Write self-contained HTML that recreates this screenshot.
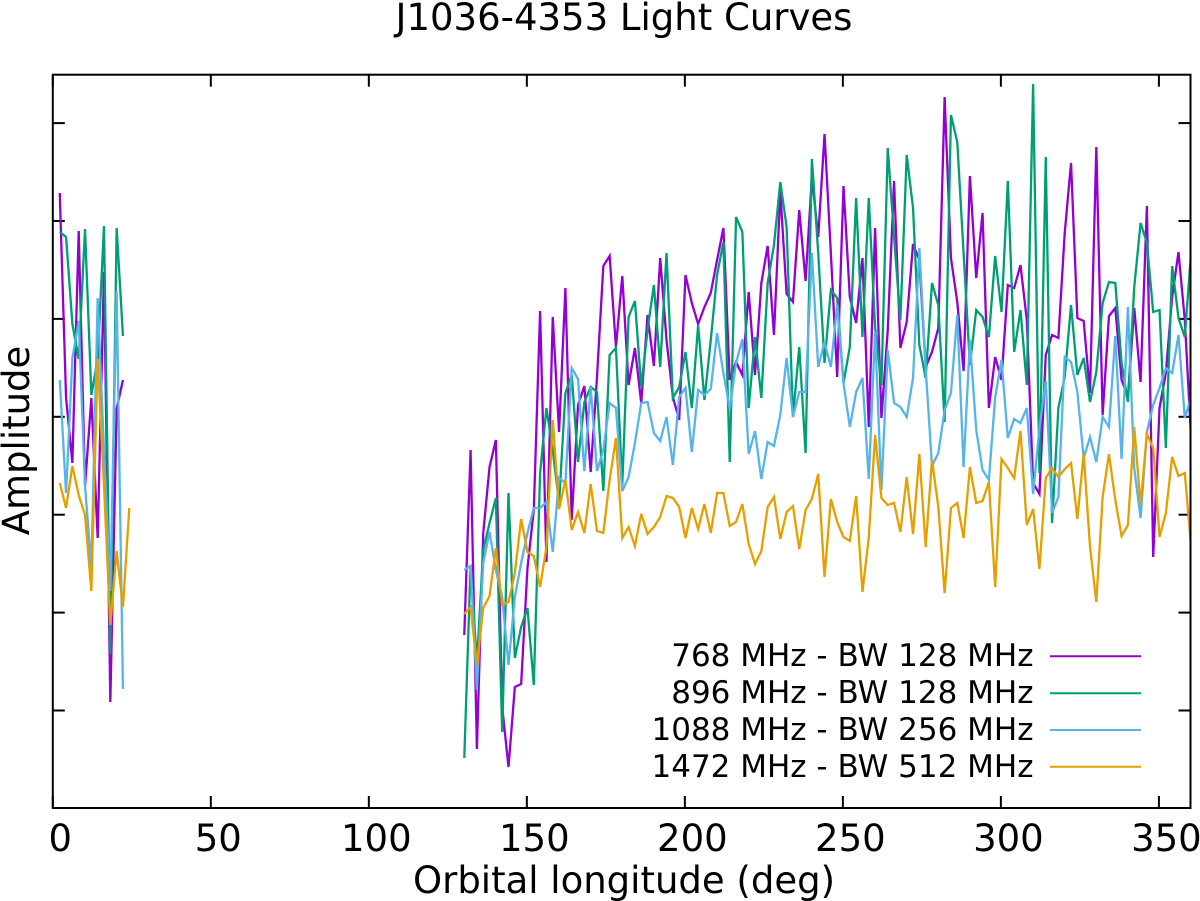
<!DOCTYPE html>
<html lang="en">
<head>
<meta charset="utf-8">
<title>J1036-4353 Light Curves</title>
<style>
html,body{margin:0;padding:0;background:#fff;}
svg{display:block;}
text{font-family:"DejaVu Sans","Liberation Sans",sans-serif;fill:#000;font-size:37px;}
text.legend-text{font-size:31px;}
</style>
</head>
<body>
<svg id="chart" xmlns="http://www.w3.org/2000/svg" width="1200" height="901" viewBox="0 0 1200 901">
<rect x="0" y="0" width="1200" height="901" fill="#fff"/>
<defs><clipPath id="plot-clip"><rect x="52.8" y="74.7" width="1137.7" height="733.3"/></clipPath></defs>
<text x="624" y="30" text-anchor="middle">J1036-4353 Light Curves</text>
<text x="624" y="893" text-anchor="middle">Orbital longitude (deg)</text>
<text transform="translate(29,440.5) rotate(-90)" text-anchor="middle">Amplitude</text>
<g id="ticks"></g>
<g id="series" clip-path="url(#plot-clip)"></g>
<rect x="52.8" y="74.7" width="1137.7" height="733.3" fill="none" stroke="#000" stroke-width="2"/>
<g>
<g><text class="legend-text" x="1033.5" y="666" text-anchor="end">768 MHz - BW 128 MHz</text><line x1="1050" x2="1141" y1="656.3" y2="656.3" stroke="#9400d3" stroke-width="2"/></g>
<g><text class="legend-text" x="1033.5" y="703" text-anchor="end">896 MHz - BW 128 MHz</text><line x1="1050" x2="1141" y1="693.3" y2="693.3" stroke="#009e73" stroke-width="2"/></g>
<g><text class="legend-text" x="1033.5" y="740" text-anchor="end">1088 MHz - BW 256 MHz</text><line x1="1050" x2="1141" y1="730" y2="730" stroke="#56b4e9" stroke-width="2"/></g>
<g><text class="legend-text" x="1033.5" y="777" text-anchor="end">1472 MHz - BW 512 MHz</text><line x1="1050" x2="1141" y1="766.7" y2="766.7" stroke="#e69f00" stroke-width="2"/></g>
</g>
</svg>
<script>
const xTickValues = [0,50,100,150,200,250,300,350];
const yTickValues = [97.5,195.4,293.3,391.2,489.1,587,684.9];

const lonEarly = [2.2,4.2,6.2,8.2,10.2,12.2,14.2,16.2,18.2,20.2,22.2,24.2];
const lonLate = [130.2,132.2,134.2,136.2,138.2,140.2,142.2,144.2,146.2,148.2,
150.2,152.2,154.2,156.2,158.2,160.2,162.2,164.2,166.2,168.2,
170.2,172.2,174.2,176.2,178.2,180.2,182.2,184.2,186.2,188.2,
190.2,192.2,194.2,196.2,198.2,200.2,202.2,204.2,206.2,208.2,
210.2,212.2,214.2,216.2,218.2,220.2,222.2,224.2,226.2,228.2,
230.2,232.2,234.2,236.2,238.2,240.2,242.2,244.2,246.2,248.2,
250.2,252.2,254.2,256.2,258.2,260.2,262.2,264.2,266.2,268.2,
270.2,272.2,274.2,276.2,278.2,280.2,282.2,284.2,286.2,288.2,
290.2,292.2,294.2,296.2,298.2,300.2,302.2,304.2,306.2,308.2,
310.2,312.2,314.2,316.2,318.2,320.2,322.2,324.2,326.2,328.2,
330.2,332.2,334.2,336.2,338.2,340.2,342.2,344.2,346.2,348.2,
350.2,352.2,354.2,356.2,358.2,360.2];

const amp768Early = [615,410,345,577,322,410,270,536,106,399,428];
const amp768Late = [173,358,59,275,341,368,101,41,121,124,
240,298,497,246,491,376,520,288,403,422,
336,431,542,552,461,532,423,460,405,493,
442,550,468,411,388,533,505,484,501,515,
548,580,428,446,433,516,433,525,562,473,
616,514,506,598,527,631,571,674,555,431,
622,511,485,550,381,580,390,478,627,460,
486,564,548,441,456,480,711,550,506,437,
632,530,595,400,451,428,523,520,543,488,
325,314,453,473,470,575,645,490,487,415,
661,393,492,500,428,411,500,426,602,251,
400,435,511,556,488,370];

const amp896Early = [576,571,484,449,579,413,449,582,154,580,472];
const amp896Late = [50,243,145,258,285,310,76,315,150,181,
200,123,335,400,358,305,415,433,346,406,
421,416,317,453,460,323,491,507,421,478,
523,441,555,410,421,456,400,483,408,468,
533,566,346,591,576,400,471,410,525,563,
626,581,391,461,355,649,555,445,518,510,
425,461,610,471,610,481,423,660,571,488,
653,600,463,430,525,503,386,693,666,555,
443,498,491,471,552,496,627,456,498,423,
724,335,651,285,400,431,503,433,450,406,
436,505,526,525,445,406,521,585,565,496,
498,360,542,490,471,556];

const amp1088Early = [428,315,450,487,322,240,510,357,217,517,119];
const amp1088Late = [238,242,118,245,276,238,211,143,211,245,
275,300,300,306,256,330,325,440,429,337,
421,337,358,405,400,317,331,365,405,406,
375,367,391,343,411,420,356,418,413,419,
475,435,399,445,469,354,377,329,366,362,
393,450,391,416,416,555,441,466,441,503,
425,381,416,430,329,476,318,458,405,401,
391,430,560,440,342,355,398,415,493,341,
468,378,338,328,411,448,370,389,385,400,
314,380,427,295,311,451,446,416,350,371,
346,391,381,472,349,501,340,290,376,403,
420,440,435,473,390,411];

const amp1472Early = [325,300,342,313,293,217,449,322,183,257,201,300];
const amp1472Late = [194,201,143,200,212,260,203,206,235,289,
256,252,221,261,388,299,328,278,296,275,
324,277,275,328,370,270,281,262,294,274,
281,291,312,310,301,270,300,279,304,275,
315,315,282,286,304,264,244,257,301,311,
269,296,302,259,298,309,334,231,309,286,
271,267,312,216,271,373,310,303,305,276,
331,274,354,261,348,301,215,300,305,270,
341,305,307,326,221,349,340,330,377,283,
299,239,330,340,331,339,345,289,354,261,
206,311,354,308,272,283,381,303,374,360,
271,295,351,332,335,261];

const seriesNames = ['768','896','1088','1472'];
const seriesColors = ['#9400d3','#009e73','#56b4e9','#e69f00'];
const seriesEarly = [amp768Early,amp896Early,amp1088Early,amp1472Early];
const seriesLate = [amp768Late,amp896Late,amp1088Late,amp1472Late];

const plotLeft = 52.8, plotRight = 1190.5, plotTop = 74.7, plotBottom = 808;
const xMin = 0, xMax = 360, yMin = 0, yMax = 733.3;
const NS = 'http://www.w3.org/2000/svg';
function xScale(v){ return plotLeft + (v - xMin) / (xMax - xMin) * (plotRight - plotLeft); }
function yScale(v){ return plotBottom - (v - yMin) / (yMax - yMin) * (plotBottom - plotTop); }

function tickLine(x1, y1, x2, y2){
  const l = document.createElementNS(NS, 'line');
  l.setAttribute('x1', x1);
  l.setAttribute('y1', y1);
  l.setAttribute('x2', x2);
  l.setAttribute('y2', y2);
  l.setAttribute('stroke', '#000');
  l.setAttribute('stroke-width', '2');
  return l;
}

const tickGroup = document.getElementById('ticks');
xTickValues.forEach(function(v){
  const px = xScale(v);
  const bottom = tickLine(px, plotBottom, px, plotBottom - 12);
  
  
  tickGroup.appendChild(bottom);
  const top = tickLine(px, plotTop, px, plotTop + 12);
  
  
  tickGroup.appendChild(top);
  const label = document.createElementNS(NS, 'text');
  
  
  label.setAttribute('x', px + 7.5);
  label.setAttribute('y', 851);
  label.setAttribute('text-anchor', 'middle');
  label.textContent = v;
  tickGroup.appendChild(label);
});
yTickValues.forEach(function(v){
  const py = yScale(v);
  const left = tickLine(plotLeft, py, plotLeft + 12, py);
  
  
  tickGroup.appendChild(left);
  const right = tickLine(plotRight, py, plotRight - 12, py);
  
  
  tickGroup.appendChild(right);
});

function drawLine(parent, lons, amps, color){
  const pts = amps.map(function(a, i){ return xScale(lons[i]).toFixed(2) + ',' + yScale(a).toFixed(2); }).join(' ');
  const p = document.createElementNS(NS, 'polyline');
  p.setAttribute('points', pts);
  p.setAttribute('fill', 'none');
  p.setAttribute('stroke', color);
  p.setAttribute('stroke-width', '2.3');
  p.setAttribute('stroke-linejoin', 'miter');
  parent.appendChild(p);
  return p;
}

const seriesGroup = document.getElementById('series');
seriesNames.forEach(function(name, s){
  const early = drawLine(seriesGroup, lonEarly, seriesEarly[s], seriesColors[s]);
  
  
  const late = drawLine(seriesGroup, lonLate, seriesLate[s], seriesColors[s]);
  
  
});
</script>
</body>
</html>
